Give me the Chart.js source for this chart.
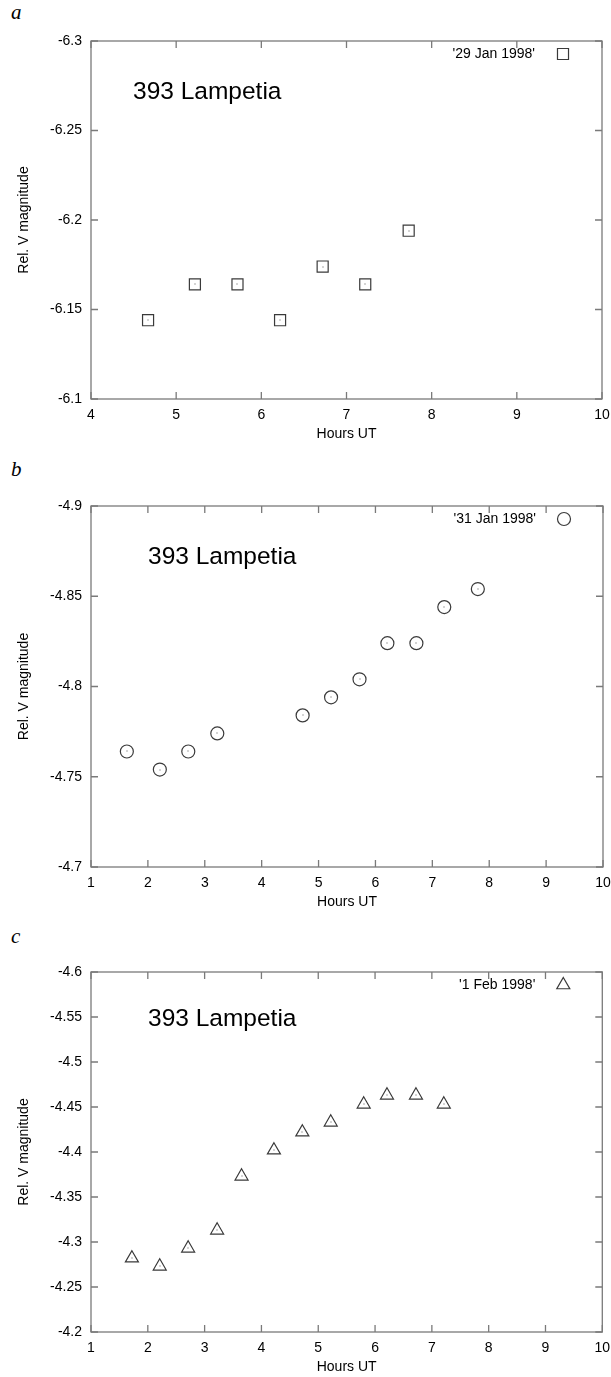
<!DOCTYPE html>
<html>
<head>
<meta charset="utf-8">
<script src="https://cdn.jsdelivr.net/npm/chart.js@4.4.0/dist/chart.umd.min.js"></script>
<style>
  body { margin: 0; background: #fff; width: 611px; height: 1377px; position: relative; overflow: hidden; }
  .panel { position: absolute; left: 0; width: 611px; height: 450px; }
  .tag { position: absolute; left: 11px; font: italic 21px "Liberation Serif", "DejaVu Serif", serif; color: #000; }
</style>
</head>
<body>
<div class="tag" style="top:0px">a</div>
<div class="tag" style="top:457px">b</div>
<div class="tag" style="top:924px">c</div>
<div class="panel" style="top:0"><canvas id="chartA" width="611" height="450"></canvas></div>
<div class="panel" style="top:466px"><canvas id="chartB" width="611" height="450"></canvas></div>
<div class="panel" style="top:932px"><canvas id="chartC" width="611" height="450"></canvas></div>
<script>
// data
const hoursA = [4.67, 5.22, 5.72, 6.22, 6.72, 7.22, 7.73];
const magA = [-6.144, -6.164, -6.164, -6.144, -6.174, -6.164, -6.194];

const hoursB = [1.63, 2.21, 2.71, 3.22, 4.72, 5.22, 5.72, 6.21, 6.72, 7.21, 7.80];
const magB = [-4.764, -4.754, -4.764, -4.774, -4.784, -4.794, -4.804, -4.824, -4.824, -4.844, -4.854];

const hoursC = [1.72, 2.21, 2.71, 3.22, 3.65, 4.22, 4.72, 5.22, 5.80, 6.21, 6.72, 7.21];
const magC = [-4.282, -4.273, -4.293, -4.313, -4.373, -4.402, -4.422, -4.433, -4.453, -4.463, -4.463, -4.453];

const seriesLabels = ["'29 Jan 1998'", "'31 Jan 1998'", "'1 Feb 1998'"];
const objectName = '393 Lampetia';

// ticks
const xTicksA = [4, 5, 6, 7, 8, 9, 10];
const xTicksBC = [1, 2, 3, 4, 5, 6, 7, 8, 9, 10];
const yTicksA = [-6.3, -6.25, -6.2, -6.15, -6.1];
const yTicksB = [-4.9, -4.85, -4.8, -4.75, -4.7];
const yTicksC = [-4.6, -4.55, -4.5, -4.45, -4.4, -4.35, -4.3, -4.25, -4.2];

const FONT = '"Liberation Sans", Arial, sans-serif';
const AXIS_GRAY = '#7a7a7a';
const MARK = '#3a3a3a';

// frame, inward ticks on all sides, key and object name
const gnuplotLook = {
	id: 'gnuplotLook',
	afterDraw(chart, args, opts) {
		const { ctx, chartArea: a, scales } = chart;
		ctx.save();
		ctx.strokeStyle = AXIS_GRAY;
		ctx.lineWidth = 1.3;
		ctx.strokeRect(a.left, a.top, a.right - a.left, a.bottom - a.top);
		ctx.beginPath();
		scales.x.ticks.forEach((t) => {
			const px = scales.x.getPixelForValue(t.value);
			ctx.moveTo(px, a.bottom); ctx.lineTo(px, a.bottom - 7);
			ctx.moveTo(px, a.top); ctx.lineTo(px, a.top + 7);
		});
		scales.y.ticks.forEach((t) => {
			const py = scales.y.getPixelForValue(t.value);
			ctx.moveTo(a.left, py); ctx.lineTo(a.left + 7, py);
			ctx.moveTo(a.right, py); ctx.lineTo(a.right - 7, py);
		});
		ctx.stroke();

		// object name
		ctx.fillStyle = '#000';
		ctx.font = '24.5px ' + FONT;
		ctx.textBaseline = 'middle';
		ctx.textAlign = 'left';
		ctx.fillText(objectName, opts.nameX, a.top + opts.nameY);

		// key
		const ds = chart.data.datasets[0];
		ctx.font = '14px ' + FONT;
		ctx.textAlign = 'right';
		ctx.fillText(ds.label, a.right - 67, a.top + 13);
		ctx.strokeStyle = MARK;
		ctx.fillStyle = 'rgba(0,0,0,0)';
		ctx.lineWidth = ds.borderWidth;
		Chart.helpers.drawPoint(ctx, { pointStyle: ds.pointStyle, radius: ds.pointRadius, borderWidth: ds.borderWidth, rotation: 0 }, a.right - 39, a.top + 13);
		ctx.restore();
	},
	afterDatasetsDraw(chart) {
		const { ctx } = chart;
		ctx.save();
		ctx.fillStyle = '#555';
		chart.getDatasetMeta(0).data.forEach((pt) => ctx.fillRect(Math.round(pt.x) - 0.5, Math.round(pt.y) - 0.5, 1, 1));
		ctx.restore();
	},
};

function fmt(v) {
	return String(Number(v.toFixed(3)));
}

function makeChart(id, xs, ys, label, style, radius, xTicks, yTicks, pad, nameX, nameY) {
	const ctx = document.getElementById(id).getContext('2d');
	return new Chart(ctx, {
		type: 'scatter',
		data: {
			datasets: [{
				label,
				data: xs.map((x, i) => ({ x, y: ys[i] })),
				pointStyle: style,
				pointRadius: radius,
				pointHoverRadius: radius,
				borderColor: MARK,
				backgroundColor: 'rgba(0,0,0,0)',
				borderWidth: 1.2,
			}],
		},
		options: {
			responsive: false,
			animation: false,
			events: [],
			layout: { padding: { top: pad[0], right: 8, left: 0, bottom: pad[1] } },
			plugins: { legend: { display: false }, tooltip: { enabled: false }, gnuplotLook: { nameX, nameY } },
			scales: {
				x: {
					type: 'linear',
					min: xTicks[0],
					max: xTicks[xTicks.length - 1],
					afterBuildTicks: (s) => { s.ticks = xTicks.map((v) => ({ value: v })); },
					afterFit: (s) => { s.height = 47; s.paddingLeft = 0; s.paddingRight = 0; },
					grid: { display: false, drawTicks: false },
					border: { display: false },
					ticks: { color: '#000', font: { family: FONT, size: 14 }, padding: 8, maxRotation: 0, autoSkip: false, callback: (v) => fmt(v) },
					title: { display: true, text: 'Hours UT', color: '#000', font: { family: FONT, size: 14 }, padding: { top: 0, bottom: 3 } },
				},
				y: {
					type: 'linear',
					reverse: true,
					min: yTicks[0],
					max: yTicks[yTicks.length - 1],
					afterBuildTicks: (s) => { s.ticks = yTicks.map((v) => ({ value: v })); },
					afterFit: (s) => { s.width = 91; s.paddingTop = 0; s.paddingBottom = 0; },
					grid: { display: false, drawTicks: false },
					border: { display: false },
					ticks: { color: '#000', font: { family: FONT, size: 14 }, padding: 9, autoSkip: false, callback: (v) => fmt(v) },
					title: { display: true, text: 'Rel. V magnitude', color: '#000', font: { family: FONT, size: 14 }, padding: { top: 16, bottom: 0 } },
				},
			},
		},
		plugins: [gnuplotLook],
	});
}

makeChart('chartA', hoursA, magA, seriesLabels[0], 'rect', 7.8, xTicksA, yTicksA, [41, 4], 133, 51);
makeChart('chartB', hoursB, magB, seriesLabels[1], 'circle', 6.5, xTicksBC, yTicksB, [40, 2], 148, 51);
makeChart('chartC', hoursC, magC, seriesLabels[2], 'triangle', 7.5, xTicksBC, yTicksC, [40, 3], 148, 47);
</script>
</body>
</html>
